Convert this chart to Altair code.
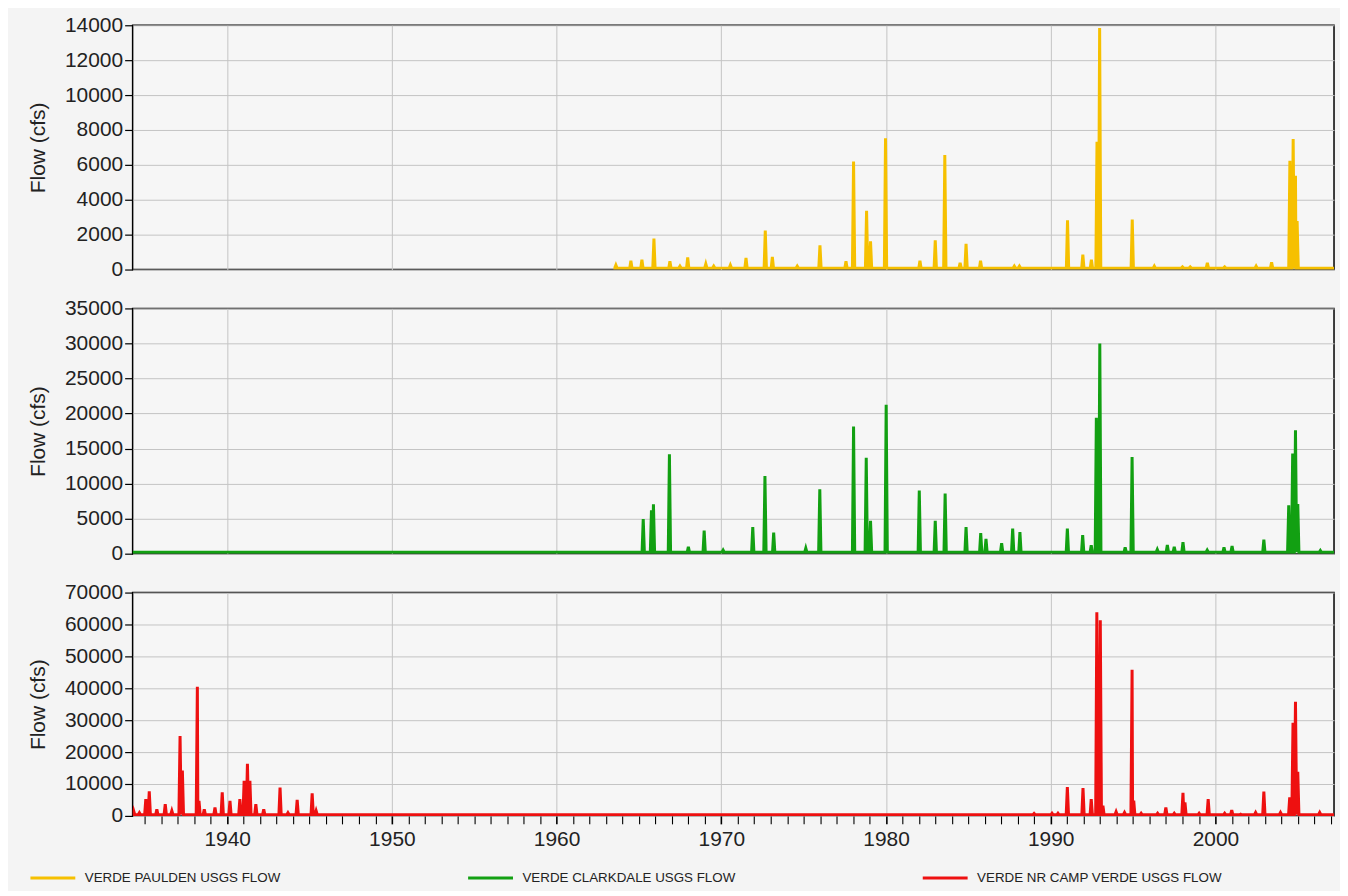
import altair as alt
import pandas as pd

# ---------------- data ----------------
series_names = ["VERDE PAULDEN USGS FLOW", "VERDE CLARKDALE USGS FLOW", "VERDE NR CAMP VERDE USGS FLOW"]
series_colors = ["#f6c000", "#12a012", "#ee1010"]

x_domain = [1934.26, 2007.2]
year_ticks = list(range(1935, 2008))

# Verde River near Paulden (record starts 1963)
paulden_record = [1963.45, 2007.2]
paulden_base = 80
paulden_years = [1963.60, 1964.51, 1965.18, 1965.91, 1966.88, 1967.49, 1967.96, 1969.06, 1969.54, 1970.55,
                 1971.50, 1972.67, 1973.10, 1974.61, 1975.99, 1977.57, 1978.03, 1978.82, 1979.06, 1979.97,
                 1982.06, 1982.99, 1983.57, 1984.50, 1984.86, 1985.74, 1987.79, 1988.10, 1991.02, 1991.95,
                 1992.47, 1992.81, 1992.97, 1994.95, 1996.29, 1998.00, 1998.47, 1999.51, 2000.56, 2002.47,
                 2003.41, 2004.52, 2004.72, 2004.86, 2004.96]
paulden_flows = [250, 500, 570, 1770, 480, 190, 700, 320, 190, 250,
                 670, 2230, 720, 190, 1390, 480, 6190, 3370, 1620, 7520,
                 510, 1680, 6570, 380, 1470, 510, 190, 190, 2820, 860,
                 570, 7330, 13850, 2860, 200, 150, 150, 380, 150, 200,
                 420, 6230, 7480, 5370, 2780]

# Verde River near Clarkdale
clarkdale_record = [1934.26, 2007.2]
clarkdale_base = 200
clarkdale_years = [1965.26, 1965.76, 1965.88, 1966.85, 1968.00, 1968.96, 1970.11, 1971.91, 1972.65, 1973.18,
                   1975.13, 1975.98, 1978.03, 1978.80, 1979.06, 1980.01, 1982.02, 1982.99, 1983.59, 1984.86,
                   1985.75, 1986.07, 1987.02, 1987.69, 1988.13, 1991.01, 1991.94, 1992.46, 1992.77, 1992.98,
                   1994.52, 1994.94, 1996.47, 1997.08, 1997.50, 1998.03, 1999.50, 2000.52, 2001.01, 2002.94,
                   2004.45, 2004.69, 2004.86, 2005.00, 2006.37]
clarkdale_flows = [4950, 6200, 7050, 14200, 1000, 3300, 500, 3800, 11100, 3000,
                   800, 9200, 18150, 13700, 4700, 21250, 9000, 4700, 8600, 3800,
                   2950, 2100, 1500, 3600, 3100, 3600, 2650, 1200, 19400, 30000,
                   900, 13800, 600, 1250, 1000, 1650, 500, 900, 1100, 2000,
                   6900, 14300, 17600, 7100, 450]

# Verde River near Camp Verde
campverde_record = [1934.26, 2007.2]
campverde_base = 350
campverde_years = [1934.32, 1934.67, 1935.06, 1935.27, 1935.73, 1936.24, 1936.64, 1937.14, 1937.28, 1938.19,
                   1938.29, 1938.61, 1939.26, 1939.70, 1940.17, 1940.77, 1941.03, 1941.23, 1941.38, 1941.74,
                   1942.22, 1943.21, 1943.69, 1944.25, 1945.16, 1945.40,
                   1988.99, 1990.08, 1990.44, 1991.01, 1991.96, 1992.46, 1992.80, 1993.01, 1993.17, 1993.97,
                   1994.48, 1994.94, 1995.04, 1995.49, 1996.49, 1996.99, 1997.50, 1998.03, 1998.15, 1999.01,
                   1999.56, 2000.56, 2000.99, 2001.53, 2002.44, 2002.94, 2003.95, 2004.51, 2004.71, 2004.86,
                   2005.00, 2006.33]
campverde_flows = [1600, 1000, 5300, 7700, 2100, 3700, 1600, 25000, 14200, 40500,
                   4700, 2100, 2600, 7400, 4700, 5300, 11000, 16300, 11000, 3700,
                   2100, 8900, 1000, 5000, 7100, 1600,
                   740, 850, 850, 9000, 8700, 5300, 63800, 61300, 3200, 1300,
                   1060, 45800, 4800, 850, 850, 2650, 850, 7200, 4200, 850,
                   5300, 850, 1800, 530, 1060, 7600, 1060, 5800, 29200, 35800,
                   13800, 1060]


def build_series(name, record, base, years, flows, half_width=0.07):
    rows = [(record[0], base), (record[1], base)]
    for t, v in zip(years, flows):
        rows += [(t - half_width, base), (t, v), (t + half_width, base)]
    df = pd.DataFrame(rows, columns=["year", "flow"]).sort_values("year")
    df["series"] = name
    return df


df_paulden = build_series(series_names[0], paulden_record, paulden_base, paulden_years, paulden_flows)
df_clarkdale = build_series(series_names[1], clarkdale_record, clarkdale_base, clarkdale_years, clarkdale_flows)
df_campverde = build_series(series_names[2], campverde_record, campverde_base, campverde_years, campverde_flows)

FONT = "Liberation Sans"

legend = alt.Legend(
    title=None, orient="none", legendX=-104, legendY=831, direction="horizontal",
    symbolType="stroke", symbolSize=2025, symbolStrokeWidth=3,
    labelFont=FONT, labelFontSize=13.4, labelColor="#222", labelOffset=8, labelLimit=400,
    columnPadding=181,
)

decade = "datum.value % 10 == 0"


def panel(df, ymax, ystep, height, bottom):
    if bottom:
        x_axis = alt.Axis(
            values=year_ticks, title=None, domain=False,
            labelExpr=f"{decade} ? toString(datum.value) : ''",
            ticks=True, tickColor="#000", tickSize=8,
            tickWidth={"condition": {"test": decade, "value": 1.6}, "value": 1.1},
            labelPadding=5,
            grid=True, gridOpacity={"condition": {"test": decade, "value": 1}, "value": 0},
        )
    else:
        x_axis = alt.Axis(
            values=year_ticks, title=None, domain=False, labels=False, ticks=False,
            grid=True, gridOpacity={"condition": {"test": decade, "value": 1}, "value": 0},
        )
    y_axis = alt.Axis(
        values=list(range(0, ymax + 1, ystep)), format="d", title="Flow (cfs)",
        domain=False, tickColor="#000", tickSize=8, tickWidth=1.2, labelPadding=2,
        titlePadding=16,
    )
    return alt.Chart(df).mark_line(strokeWidth=3, clip=True).encode(
        x=alt.X("year:Q", scale=alt.Scale(domain=x_domain, nice=False, zero=False), axis=x_axis),
        y=alt.Y("flow:Q", scale=alt.Scale(domain=[0, ymax], nice=False), axis=y_axis),
        color=alt.Color("series:N", scale=alt.Scale(domain=series_names, range=series_colors), legend=legend),
    ).properties(width=1205, height=height)


top = panel(df_paulden, 14000, 2000, 245, False)
mid = panel(df_clarkdale, 35000, 5000, 246, False)
bot = panel(df_campverde, 70000, 10000, 224, True)

chart = alt.vconcat(top, mid, bot, spacing=39, bounds="flush").properties(
    padding={"left": 18, "top": 4, "right": 5, "bottom": 5},
    background="#f4f4f4",
).configure_view(
    stroke="#000", strokeWidth=1.5, fill="#f6f6f6"
).configure_axis(
    labelFont=FONT, titleFont=FONT, labelFontSize=21, titleFontSize=21,
    titleFontWeight="normal", labelColor="#222", titleColor="#222",
    gridColor="#c4c4c4", gridWidth=1,
)

chart.save("out.html", embed_options={"renderer": "svg", "actions": False})
